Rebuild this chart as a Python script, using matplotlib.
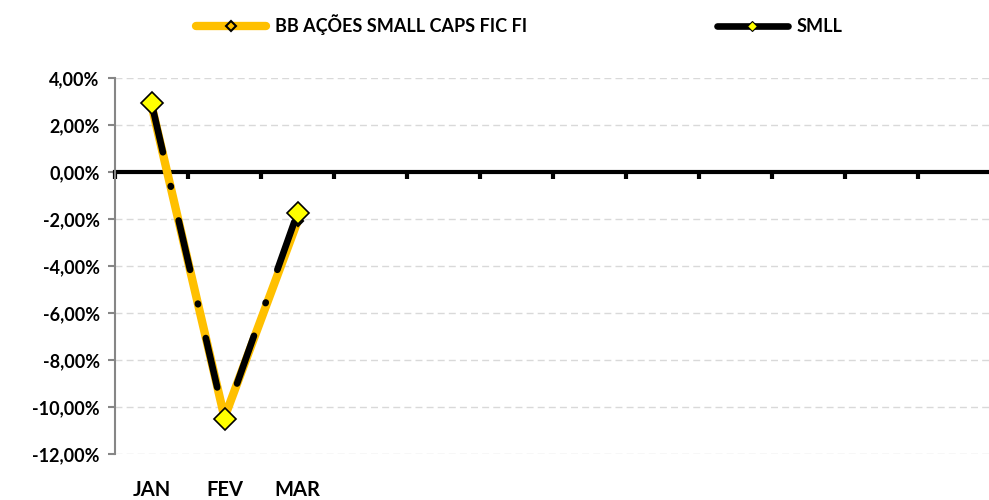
import matplotlib
matplotlib.use("Agg")
import matplotlib.pyplot as plt
from matplotlib.lines import Line2D
from matplotlib.ticker import FuncFormatter

plt.rcParams['font.family'] = ['Lato', 'DejaVu Sans']
plt.rcParams['font.weight'] = 'bold'

months = ["JAN", "FEV", "MAR", "", "", "", "", "", "", "", "", ""]
fund_name = "BB AÇÕES SMALL CAPS FIC FI"
index_name = "SMLL"
fund_values = [2.85, -10.45, -2.10]
smll_values = [2.94, -10.51, -1.74]
yticks = [-12, -10, -8, -6, -4, -2, 0, 2, 4]

fig = plt.figure(figsize=(9.89, 5.0), dpi=100)
ax = fig.add_axes([115/989, 1-454/500, (991-115)/989, (454-78)/500])

x = list(range(len(fund_values)))
ax.plot(x, fund_values, color='#FFC000', lw=6.0, marker='D', ms=5,
        mfc='#FFC000', mec='black', mew=1.5, zorder=3, solid_capstyle='round')
ax.plot(x, smll_values, color='black', lw=4.8, dashes=(7.6, 5.2, 0.1, 5.2),
        dash_capstyle='round', marker='D', ms=11, mfc='#FFFF00', mec='black',
        mew=1.2, zorder=4)

ax.set_xlim(-0.5, len(months) - 0.5)
ax.set_ylim(-12, 4)
ax.set_yticks(yticks)
ax.yaxis.set_major_formatter(FuncFormatter(lambda v, p: f"{v:.2f}%".replace('.', ',')))
for v in yticks:
    if v != 0:
        ax.axhline(v, color='#D9D9D9', lw=1.0, ls=(0, (5, 3)), zorder=1)

for s in ['top', 'right']:
    ax.spines[s].set_visible(False)
ax.spines['left'].set_color('#868686')
ax.spines['left'].set_linewidth(1.5)
ax.spines['bottom'].set_position(('data', 0))
ax.spines['bottom'].set_linewidth(3)
ax.spines['bottom'].set_color('black')
ax.spines['bottom'].set_zorder(2)

ax.set_xticks([i - 0.5 for i in range(len(months))])
ax.tick_params(axis='x', direction='out', length=5, width=3, color='black',
               labelbottom=False)
ax.tick_params(axis='y', direction='out', length=5, width=1.5, color='#868686',
               labelsize=13, pad=6)
for lab in ax.get_yticklabels():
    lab.set_fontweight('bold')

sec = ax.secondary_xaxis(0)
sec.set_xticks(range(len(months)), labels=months)
sec.tick_params(length=0, pad=19, labelsize=14.5)
sec.spines['bottom'].set_visible(False)
for lab in sec.get_xticklabels():
    lab.set_fontweight('bold')

handles = [
    Line2D([], [], color='#FFC000', lw=6.0, marker='D', ms=5, mfc='#FFC000',
           mec='black', mew=1.5, solid_capstyle='round'),
    Line2D([], [], color='black', lw=4.8, marker='D', ms=5, mfc='#FFFF00',
           mec='black', mew=0.8, solid_capstyle='round'),
]
fig.legend(handles, [fund_name, index_name], loc='center', ncol=2,
           bbox_to_anchor=(0.525, 0.95), frameon=False,
           handlelength=3.9, handletextpad=0.5, columnspacing=10.5,
           prop={'weight': 'bold', 'size': 13})

fig.savefig("out.png", dpi=100)
